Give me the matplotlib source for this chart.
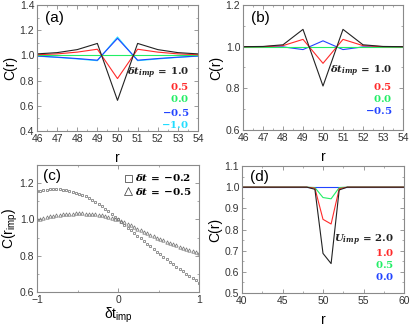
import numpy as np
import matplotlib
matplotlib.use("Agg")
import matplotlib.pyplot as plt
from matplotlib.ticker import MultipleLocator

plt.rcParams['font.family'] = ['Liberation Sans', 'DejaVu Sans']
plt.rcParams['mathtext.fontset'] = 'custom'
plt.rcParams['mathtext.rm'] = 'Liberation Sans'
plt.rcParams['mathtext.it'] = 'DejaVu Serif:italic:bold'
plt.rcParams['mathtext.bf'] = 'DejaVu Serif:bold'

# ---------------- data ----------------
r_a = [46, 47, 48, 49, 50, 51, 52, 53, 54]
a_labels = ['1.0', '0.5', '0.0', '-0.5', '-1.0']
a_p10 = [1.012, 1.022, 1.046, 1.095, 0.643, 1.095, 1.046, 1.022, 1.012]
a_p05 = [1.005, 1.012, 1.026, 1.049, 0.816, 1.049, 1.026, 1.012, 1.005]
a_p00 = [1.0, 1.0, 1.0, 1.0, 1.0, 1.0, 1.0, 1.0, 1.0]
a_m05 = [0.995, 0.986, 0.975, 0.962, 1.135, 0.962, 0.975, 0.986, 0.995]
a_m10 = [0.994, 0.984, 0.972, 0.958, 1.146, 0.958, 0.972, 0.984, 0.994]

r_b = [46, 47, 48, 49, 50, 51, 52, 53, 54]
b_labels = ['1.0', '0.5', '0.0', '-0.5']
b_p10 = [1.0, 1.001, 1.009, 1.083, 0.811, 1.083, 1.009, 1.001, 1.0]
b_p05 = [1.0, 1.0, 1.005, 1.035, 0.920, 1.035, 1.005, 1.0, 1.0]
b_p00 = [1.0, 1.0, 1.0, 1.0, 1.0, 1.0, 1.0, 1.0, 1.0]
b_m05 = [1.0, 1.0, 0.999, 0.986, 1.028, 0.986, 0.999, 1.0, 1.0]

dt_c = np.round(np.arange(-1.0, 1.0001, 0.04), 2)
c_sq = [1.155, 1.158, 1.161, 1.163, 1.165, 1.166, 1.166, 1.165, 1.164, 1.161,
        1.158, 1.153, 1.148, 1.142, 1.135, 1.128, 1.119, 1.109, 1.097, 1.085,
        1.073, 1.059, 1.045, 1.031, 1.016, 1.000, 0.985, 0.969, 0.954, 0.939,
        0.924, 0.909, 0.895, 0.880, 0.866, 0.851, 0.837, 0.822, 0.808, 0.794,
        0.780, 0.766, 0.753, 0.739, 0.726, 0.713, 0.700, 0.688, 0.676, 0.664,
        0.652]
c_tr = [1.000, 1.005, 1.010, 1.014, 1.017, 1.020, 1.023, 1.026, 1.028, 1.030,
        1.031, 1.032, 1.033, 1.033, 1.033, 1.032, 1.031, 1.030, 1.028, 1.026,
        1.024, 1.020, 1.015, 1.010, 1.005, 1.000, 0.992, 0.984, 0.976, 0.967,
        0.958, 0.950, 0.941, 0.933, 0.925, 0.916, 0.908, 0.900, 0.893, 0.886,
        0.878, 0.871, 0.864, 0.857, 0.850, 0.843, 0.837, 0.831, 0.825, 0.820,
        0.815]

r_d = list(range(40, 61))
d_labels = ['2.0', '1.0', '0.5', '0.0']
d_u20 = [1.0]*8 + [1.0, 0.99, 0.687, 0.639, 0.987, 1.0] + [1.0]*7
d_u10 = [1.0]*8 + [1.0, 0.995, 0.848, 0.826, 0.993, 1.0] + [1.0]*7
d_u05 = [1.0]*8 + [1.0, 0.998, 0.951, 0.945, 0.998, 1.0] + [1.0]*7
d_u00 = [1.0]*21

cols4 = ['#222222', '#ff2a2a', '#22ee66', '#2244ff', '#22ddff']

# ---------------- figure ----------------
fig = plt.figure(figsize=(4.11, 3.28), dpi=100)
W, H = 411, 328

def mkax(x0, x1, y0, y1):
    return fig.add_axes([x0 / W, 1 - y1 / H, (x1 - x0) / W, (y1 - y0) / H])

axa = mkax(37, 198, 5, 131)
axb = mkax(243, 403, 5, 130)
axc = mkax(37, 199, 165, 292)
axd = mkax(242, 404, 166, 293)

def style(ax):
    for s in ax.spines.values():
        s.set_color('#8a8a8a')
        s.set_linewidth(0.8)
    ax.tick_params(which='both', direction='in', top=True, right=True,
                   color='#8a8a8a', labelsize=7.5, labelcolor='#333333', pad=2)
    ax.tick_params(which='major', length=3, width=0.6)
    ax.tick_params(which='minor', length=1.6, width=0.5)

lw = 0.8

# (a)
for y, c in zip([a_m10, a_m05, a_p00, a_p05, a_p10], cols4[::-1]):
    axa.plot(r_a, y, color=c, lw=lw)
axa.set_xlim(46, 54)
axa.set_ylim(0.4, 1.4)
axa.xaxis.set_major_locator(MultipleLocator(1))
axa.xaxis.set_minor_locator(MultipleLocator(0.5))
axa.yaxis.set_major_locator(MultipleLocator(0.2))
axa.yaxis.set_minor_locator(MultipleLocator(0.1))
style(axa)
axa.set_xlabel('r', fontsize=10, labelpad=5)
axa.set_ylabel('C(r)', fontsize=10, labelpad=2)
axa.text(0.05, 0.95, '(a)', transform=axa.transAxes, fontsize=11, va='top', ha='left')

def legend_text(ax, x, ys, labels, cols, head):
    for i, (lab, c, y) in enumerate(zip(labels, cols, ys)):
        lab_m = lab.replace('-', '{-}')
        if i == 0:
            s = head + r'$\mathbf{\,=\,' + lab_m + '}$'
        else:
            s = r'$\mathbf{' + lab_m + '}$'
        ax.text(x / W, 1 - y / H, s, transform=fig.transFigure, color=c,
                fontsize=7.3, ha='right', va='center')

head_dt = r'$\delta t_{imp}$'
legend_text(axa, 189, [73, 86, 99, 112, 124], a_labels, cols4, head_dt)

# (b)
for y, c in zip([b_m05, b_p00, b_p05, b_p10], cols4[:4][::-1]):
    axb.plot(r_b, y, color=c, lw=lw)
axb.set_xlim(46, 54)
axb.set_ylim(0.6, 1.2)
axb.xaxis.set_major_locator(MultipleLocator(1))
axb.xaxis.set_minor_locator(MultipleLocator(0.5))
axb.yaxis.set_major_locator(MultipleLocator(0.2))
axb.yaxis.set_minor_locator(MultipleLocator(0.1))
style(axb)
axb.set_xlabel('r', fontsize=10, labelpad=5)
axb.set_ylabel('C(r)', fontsize=10, labelpad=2)
axb.text(0.05, 0.95, '(b)', transform=axb.transAxes, fontsize=11, va='top', ha='left')
legend_text(axb, 392, [71, 86, 98, 110], b_labels, cols4[:4], head_dt)

# (c)
axc.plot(dt_c, c_sq, ls='none', marker='s', ms=2.1, mfc='none', mec='#777777',
         mew=0.55, label=r'$\delta t\mathbf{\,=\,{-}0.2}$')
axc.plot(dt_c, c_tr, ls='none', marker='^', ms=2.4, mfc='none', mec='#777777',
         mew=0.55, label=r'$\delta t\mathbf{\,=\,{-}0.5}$')
axc.set_xlim(-1, 1)
axc.set_ylim(0.6, 1.3)
axc.xaxis.set_major_locator(MultipleLocator(1))
axc.xaxis.set_minor_locator(MultipleLocator(0.5))
axc.yaxis.set_major_locator(MultipleLocator(0.2))
axc.yaxis.set_minor_locator(MultipleLocator(0.1))
style(axc)
axc.set_xlabel(r'δt$_{\mathrm{imp}}$', fontsize=10, labelpad=1)
axc.set_ylabel(r'C(r$_{\mathrm{imp}}$)', fontsize=10, labelpad=0)
axc.text(0.04, 0.97, '(c)', transform=axc.transAxes, fontsize=11, va='top', ha='left')
leg = axc.legend(loc='upper right', frameon=False, fontsize=7.5, handlelength=0.6,
                 handletextpad=0.4, borderaxespad=0.3, labelspacing=0.25,
                 markerscale=2.4)
for h in leg.legend_handles:
    h.set_markeredgecolor('#444444')

# (d)
for y, c in zip([d_u00, d_u05, d_u10, d_u20], [cols4[3], cols4[2], cols4[1], cols4[0]]):
    axd.plot(r_d, y, color=c, lw=lw)
axd.set_xlim(40, 60)
axd.set_ylim(0.5, 1.1)
axd.xaxis.set_major_locator(MultipleLocator(5))
axd.xaxis.set_minor_locator(MultipleLocator(2.5))
axd.yaxis.set_major_locator(MultipleLocator(0.1))
axd.yaxis.set_minor_locator(MultipleLocator(0.05))
style(axd)
axd.set_xlabel('r', fontsize=10, labelpad=5)
axd.set_ylabel('C(r)', fontsize=10, labelpad=2)
axd.text(0.05, 0.97, '(d)', transform=axd.transAxes, fontsize=11, va='top', ha='left')
legend_text(axd, 394, [164 + 76, 164 + 88, 164 + 100, 164 + 112], d_labels,
            [cols4[0], cols4[1], cols4[2], cols4[3]], r'$U_{imp}$')

fig.savefig('out.png', dpi=100)
